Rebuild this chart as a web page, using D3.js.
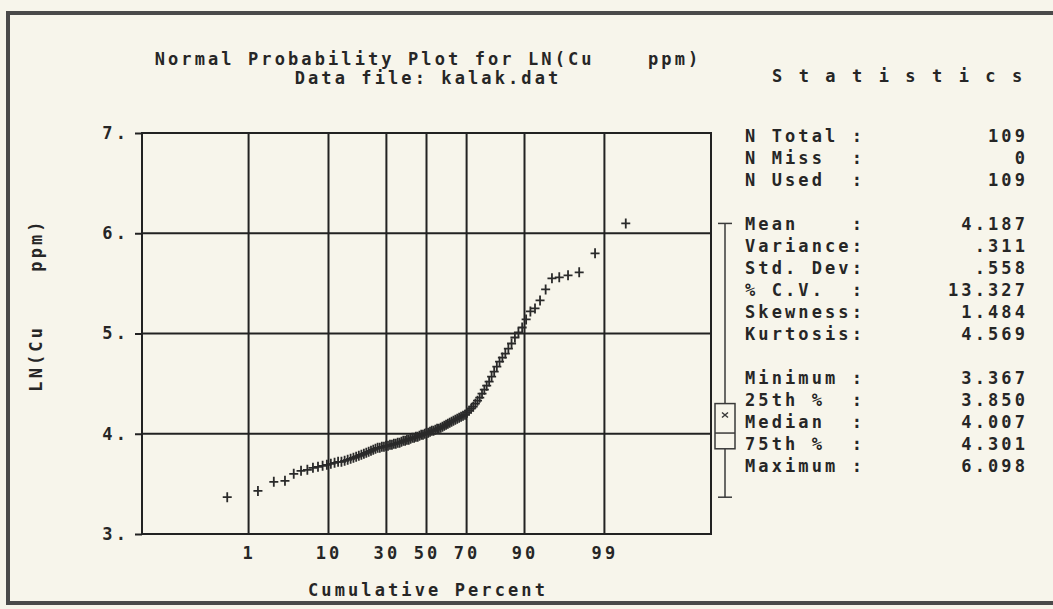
<!DOCTYPE html>
<html lang="en">
<head>
<meta charset="UTF-8">
<title>Normal Probability Plot</title>
<script src="https://cdn.jsdelivr.net/npm/d3@7"></script>
<style>
    body { margin: 0; background: #f7f5eb; }
    svg text {
        font-family: "DejaVu Sans Mono", "Liberation Mono", monospace;
        font-weight: bold;
        font-size: 17px;
        fill: #262626;
        letter-spacing: 3.1px;
        white-space: pre;
    }
    .grid { stroke: #222; stroke-width: 2; fill: none; }
    .axis line { stroke: #222; stroke-width: 2; }
    .axis path { display: none; }
    .pt { stroke: #2a2a2a; stroke-width: 1.8; fill: none; }
    .box { stroke: #3a3a3a; stroke-width: 1.5; fill: none; }
</style>
</head>
<body>
<svg></svg>
<script>
    // sorted LN(Cu ppm) values (n = 109)
    var cuValues = [
        3.367, 3.43, 3.52, 3.53, 3.60, 3.63, 3.64, 3.66, 3.67, 3.68, 3.69, 3.70,
        3.71, 3.72, 3.72, 3.73, 3.74, 3.75, 3.76, 3.77, 3.78, 3.79, 3.80, 3.81, 3.82, 3.83, 3.84,
        3.85, 3.86, 3.86, 3.87, 3.87, 3.88, 3.88, 3.89, 3.89, 3.90, 3.90, 3.91, 3.91, 3.92,
        3.93, 3.93, 3.94, 3.94, 3.95, 3.96, 3.96, 3.97, 3.97, 3.98, 3.99, 3.99, 4.00,
        4.007,
        4.01, 4.02, 4.03, 4.03, 4.04, 4.05, 4.05, 4.06, 4.07, 4.08, 4.09, 4.10, 4.11,
        4.12, 4.13, 4.14, 4.15, 4.16, 4.17, 4.18, 4.19,
        4.21, 4.23, 4.25, 4.27, 4.30, 4.33, 4.36, 4.40, 4.44, 4.48, 4.52, 4.57, 4.62,
        4.67, 4.72, 4.76, 4.80, 4.85, 4.90, 4.96,
        5.01, 5.06, 5.14, 5.22, 5.25, 5.33, 5.44, 5.55, 5.56, 5.58, 5.61, 5.80, 6.098
    ]
    var percentTicks = [1, 10, 30, 50, 70, 90, 99]
    var valueTicks = [3, 4, 5, 6, 7]
    var gridValues = [4, 5, 6]

    // min, 25th, median, 75th, max and mean for the box plot
    var boxValues = [3.367, 3.850, 4.007, 4.301, 6.098]
    var meanValue = 4.187

    var statLabels = [
        ['N Total :', 'N Miss  :', 'N Used  :'],
        ['Mean    :', 'Variance:', 'Std. Dev:', '% C.V.  :', 'Skewness:', 'Kurtosis:'],
        ['Minimum :', '25th %  :', 'Median  :', '75th %  :', 'Maximum :']
    ]
    var statValues = [
        ['109', '0', '109'],
        ['4.187', '.311', '.558', '13.327', '1.484', '4.569'],
        ['3.367', '3.850', '4.007', '4.301', '6.098']
    ]

    // inverse normal cdf (Acklam)
    function probit(p) {
        var a = [-39.69683028665376, 220.9460984245205, -275.9285104469687, 138.3577518672690, -30.66479806614716, 2.506628277459239]
        var b = [-54.47609879822406, 161.5858368580409, -155.6989798598866, 66.80131188771972, -13.28068155288572]
        var c = [-0.007784894002430293, -0.3223964580411365, -2.400758277161838, -2.549732539343734, 4.374664141464968, 2.938163982698783]
        var d = [0.007784695709041462, 0.3224671290700398, 2.445134137142996, 3.754408661907416]
        var q, r
        if (p < 0.02425) {
            q = Math.sqrt(-2 * Math.log(p))
            return (((((c[0]*q+c[1])*q+c[2])*q+c[3])*q+c[4])*q+c[5]) / ((((d[0]*q+d[1])*q+d[2])*q+d[3])*q+1)
        }
        if (p > 1 - 0.02425) {
            q = Math.sqrt(-2 * Math.log(1 - p))
            return -(((((c[0]*q+c[1])*q+c[2])*q+c[3])*q+c[4])*q+c[5]) / ((((d[0]*q+d[1])*q+d[2])*q+d[3])*q+1)
        }
        q = p - 0.5
        r = q * q
        return (((((a[0]*r+a[1])*r+a[2])*r+a[3])*r+a[4])*r+a[5])*q / (((((b[0]*r+b[1])*r+b[2])*r+b[3])*r+b[4])*r+1)
    }

    var width = 1053, height = 609
    var plot = {left: 142, right: 711, top: 133, bottom: 534}

    var svg = d3.select('svg')
        .attr('width', width)
        .attr('height', height)

    // outer page frame
    svg.append('rect')
        .attr('x', 8).attr('y', 13)
        .attr('width', 1100).attr('height', 590)
        .attr('fill', 'none')
        .attr('stroke', '#4a4a4a')
        .attr('stroke-width', 4)

    // scales: x is the normal score, y the log value
    var x = d3.scaleLinear()
        .domain([-3.72, 3.72])
        .range([plot.left, plot.right])
    var y = d3.scaleLinear()
        .domain([3, 7])
        .range([plot.bottom, plot.top])

    // grid lines
    svg.selectAll('.vgrid')
        .data(percentTicks)
        .enter().append('line')
        .attr('class', 'grid')
        .attr('x1', d => x(probit(d / 100))).attr('x2', d => x(probit(d / 100)))
        .attr('y1', plot.top).attr('y2', plot.bottom)
    svg.selectAll('.hgrid')
        .data(gridValues)
        .enter().append('line')
        .attr('class', 'grid')
        .attr('x1', plot.left).attr('x2', plot.right)
        .attr('y1', d => y(d)).attr('y2', d => y(d))
    svg.append('rect')
        .attr('class', 'grid')
        .attr('x', plot.left).attr('y', plot.top)
        .attr('width', plot.right - plot.left)
        .attr('height', plot.bottom - plot.top)

    // axes
    var yAxis = d3.axisLeft(y)
        .tickValues(valueTicks)
        .tickSize(7)
        .tickPadding(6)
        .tickFormat(d => d + '.')
    svg.append('g')
        .attr('class', 'axis')
        .attr('transform', `translate(${plot.left}, 0)`)
        .call(yAxis)

    var xAxis = d3.axisBottom(x)
        .tickValues(percentTicks.map(p => probit(p / 100)))
        .tickSize(0)
        .tickPadding(13)
        .tickFormat((d, i) => percentTicks[i])
    svg.append('g')
        .attr('class', 'axis')
        .attr('transform', `translate(0, ${plot.bottom})`)
        .call(xAxis)

    // titles
    svg.append('text')
        .attr('x', 428).attr('y', 65)
        .attr('text-anchor', 'middle')
        .text('Normal Probability Plot for LN(Cu    ppm)')
    svg.append('text')
        .attr('x', 428).attr('y', 84)
        .attr('text-anchor', 'middle')
        .text('Data file: kalak.dat')
    svg.append('text')
        .attr('x', 428).attr('y', 596)
        .attr('text-anchor', 'middle')
        .text('Cumulative Percent')
    svg.append('text')
        .attr('transform', 'translate(42, 305) rotate(-90)')
        .attr('text-anchor', 'middle')
        .text('LN(Cu    ppm)')

    // points: plotting position (i - 0.5) / n
    var n = cuValues.length
    svg.selectAll('.pt')
        .data(cuValues)
        .enter().append('path')
        .attr('class', 'pt')
        .attr('d', 'M-4.5,0H4.5M0,-5V5')
        .attr('transform', (d, i) => `translate(${x(probit((i + 0.5) / n))}, ${y(d)})`)

    // box plot beside the plot
    var bx = 725, bw = 20, cap = 14
    var box = svg.append('g').attr('class', 'box')
    box.append('line')
        .attr('x1', bx).attr('x2', bx)
        .attr('y1', y(boxValues[0])).attr('y2', y(boxValues[4]))
    box.selectAll('.cap')
        .data([boxValues[0], boxValues[4]])
        .enter().append('line')
        .attr('x1', bx - cap / 2).attr('x2', bx + cap / 2)
        .attr('y1', d => y(d)).attr('y2', d => y(d))
    box.append('rect')
        .attr('x', bx - bw / 2).attr('width', bw)
        .attr('y', y(boxValues[3]))
        .attr('height', y(boxValues[1]) - y(boxValues[3]))
        .attr('fill', '#f7f5eb')
    box.append('line')
        .attr('x1', bx - bw / 2).attr('x2', bx + bw / 2)
        .attr('y1', y(boxValues[2])).attr('y2', y(boxValues[2]))
    box.append('path')
        .attr('d', 'M-3,-2.5L3,2.5M-3,2.5L3,-2.5')
        .attr('transform', `translate(${bx}, ${y(meanValue)})`)

    // statistics panel
    svg.append('text')
        .attr('x', 772).attr('y', 82)
        .text('S t a t i s t i c s')

    var groupTop = [142, 230, 384]
    var rowGap = 22
    statLabels.forEach(function(rows, g) {
        var grp = svg.append('g')
        grp.selectAll('.lab')
            .data(rows)
            .enter().append('text')
            .attr('x', 745)
            .attr('y', (d, i) => groupTop[g] + i * rowGap)
            .text(d => d)
        grp.selectAll('.val')
            .data(statValues[g])
            .enter().append('text')
            .attr('x', 1028)
            .attr('y', (d, i) => groupTop[g] + i * rowGap)
            .attr('text-anchor', 'end')
            .text(d => d)
    })
</script>
</body>
</html>
